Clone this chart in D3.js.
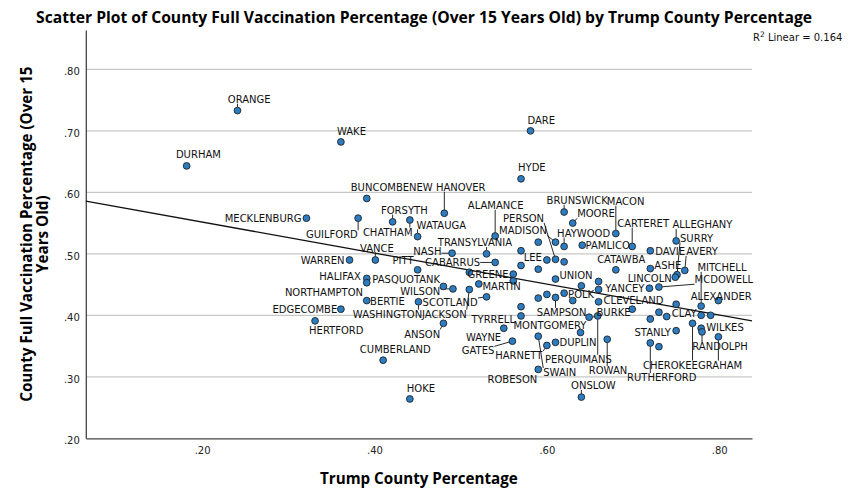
<!DOCTYPE html>
<html><head><meta charset="utf-8">
<script src="https://cdn.jsdelivr.net/npm/d3@7"></script>
<style>body{margin:0;background:#fff}svg{display:block}</style>
</head><body>
<svg id="chart" width="850" height="500"></svg>
<script>
// ---------------- DATA ----------------
const counties = ["ORANGE","DURHAM","WAKE","DARE","HYDE","MECKLENBURG","BUNCOMBE","NEW HANOVER","FORSYTH","CHATHAM",
"GUILFORD","WATAUGA","WARREN","VANCE","PITT","NASH","TRANSYLVANIA","ALAMANCE","CABARRUS","GREENE",
"MARTIN","HALIFAX","NORTHAMPTON","PASQUOTANK","WILSON","BERTIE","WASHINGTON","SCOTLAND","JACKSON","EDGECOMBE",
"HERTFORD","ANSON","CUMBERLAND","HOKE","BRUNSWICK","MOORE","MACON","PERSON","MADISON","HAYWOOD",
"PAMLICO","CARTERET","ALLEGHANY","SURRY","LINCOLN","DAVIE","AVERY","ASHE","CATAWBA","MITCHELL",
"MCDOWELL","YANCEY","ALEXANDER","CLEVELAND","CLAY","WILKES","RANDOLPH","GRAHAM","CHEROKEE","STANLY",
"RUTHERFORD","ROWAN","ONSLOW","PERQUIMANS","BURKE","POLK","SAMPSON","UNION","LEE","TYRRELL",
"MONTGOMERY","WAYNE","GATES","HARNETT","DUPLIN","SWAIN","ROBESON",
"","","","","","","","","","","","","","","","","","","","",""];

const trumpPct = [0.241,0.182,0.361,0.581,0.570,0.321,0.391,0.481,0.421,0.441,
0.381,0.450,0.371,0.401,0.450,0.490,0.530,0.540,0.540,0.561,
0.521,0.391,0.391,0.480,0.491,0.391,0.451,0.530,0.510,0.361,
0.331,0.480,0.410,0.441,0.620,0.630,0.680,0.610,0.610,0.620,
0.641,0.699,0.750,0.751,0.749,0.720,0.760,0.720,0.680,0.779,
0.730,0.660,0.799,0.660,0.739,0.779,0.780,0.799,0.769,0.750,
0.720,0.670,0.640,0.659,0.649,0.620,0.610,0.610,0.600,0.570,
0.639,0.550,0.560,0.600,0.610,0.590,0.590,
0.570,0.570,0.590,0.590,0.620,0.510,0.561,0.640,0.660,0.590,0.600,0.630,0.570,0.699,0.719,0.750,0.720,0.730,0.779,0.790,0.730];

const vaxPct = [0.733,0.643,0.682,0.700,0.622,0.558,0.590,0.566,0.552,0.555,
0.558,0.528,0.490,0.490,0.474,0.501,0.500,0.529,0.486,0.467,
0.451,0.460,0.453,0.447,0.443,0.424,0.422,0.430,0.442,0.410,
0.391,0.387,0.327,0.264,0.568,0.550,0.533,0.491,0.519,0.512,
0.514,0.512,0.521,0.466,0.462,0.505,0.473,0.476,0.474,0.415,
0.446,0.442,0.424,0.422,0.398,0.379,0.373,0.365,0.387,0.375,
0.355,0.361,0.267,0.399,0.397,0.436,0.429,0.459,0.490,0.399,
0.372,0.379,0.358,0.351,0.356,0.366,0.312,
0.505,0.481,0.519,0.475,0.487,0.470,0.456,0.448,0.455,0.428,0.434,0.424,0.414,0.410,0.444,0.418,0.394,0.405,0.400,0.400,0.349];

const xTicks = [0.2, 0.4, 0.6, 0.8];
const yTicks = [0.2, 0.3, 0.4, 0.5, 0.6, 0.7, 0.8];
const fitIntercept = 0.602;
const fitSlope = -0.252;
const rSquared = 0.164;
const titleText = "Scatter Plot of County Full Vaccination Percentage (Over 15 Years Old) by Trump County Percentage";
const xTitleText = "Trump County Percentage";
const yTitleLines = ["County Full Vaccination Percentage (Over 15", "Years Old)"];

// ---------------- LABEL LAYOUT (offsets from point, anchor) ----------------
const labelLayout = {
"ORANGE":[-9.7,-11.3,"start"],"DURHAM":[-10.7,-11,"start"],"WAKE":[-4,-11,"start"],"DARE":[-3,-10,"start"],
"HYDE":[-3,-11,"start"],"MECKLENBURG":[-5,0.7,"end"],"BUNCOMBE":[-16,-11,"start"],"NEW HANOVER":[-35.3,-26,"start"],
"FORSYTH":[-11.6,-11.7,"start"],"CHATHAM":[2.7,12,"end"],"GUILFORD":[-0.3,16.7,"end"],"WATAUGA":[-1,-11.7,"start"],
"WARREN":[-5,0,"end"],"VANCE":[-15.3,-12,"start"],"PITT":[-25,-9,"start"],"NASH":[-10.6,-2.3,"end"],
"TRANSYLVANIA":[-48.7,-11.3,"start"],"ALAMANCE":[-27.3,-30.7,"start"],"CABARRUS":[-15,0,"end"],"GREENE":[-4.7,0,"end"],
"MARTIN":[3.7,2.7,"start"],"HALIFAX":[-6,-1.6,"end"],"NORTHAMPTON":[-3.7,9.3,"end"],"PASQUOTANK":[-3.3,-7.2,"end"],
"WILSON":[-12.7,2.7,"end"],"BERTIE":[3.3,1,"start"],"WASHINGTON":[3.7,12.3,"end"],"SCOTLAND":[-64,5.6,"start"],
"JACKSON":[-47.3,24.7,"start"],"EDGECOMBE":[-3.7,0,"end"],"HERTFORD":[-6,10,"start"],"ANSON":[-3.3,10.7,"end"],
"CUMBERLAND":[-23.3,-10.7,"start"],"HOKE":[-3,-10.7,"start"],"BRUNSWICK":[-17.6,-11.7,"start"],"MOORE":[4.4,-9.3,"start"],
"MACON":[-9,-32.3,"start"],"PERSON":[-52.4,-41,"start"],"LEE":[-5,-2.7,"end"],"MADISON":[-56.4,-11.3,"start"],
"HAYWOOD":[-7,-13.4,"start"],"PAMLICO":[3.3,0,"start"],"CARTERET":[-15,-23.4,"start"],"ALLEGHANY":[-3.7,-16.4,"start"],
"SURRY":[3,-36.8,"start"],"LINCOLN":[-3.6,1,"end"],"DAVIE":[5,1,"start"],"AVERY":[1.4,-19,"start"],
"ASHE":[4,-3.3,"start"],"CATAWBA":[-18.7,-10.7,"start"],"MITCHELL":[-3.7,-38.7,"start"],"MCDOWELL":[35.7,-7.3,"start"],
"YANCEY":[6.7,-1,"start"],"ALEXANDER":[-27.6,-3.7,"start"],"CLEVELAND":[5,-1,"start"],"CLAY":[5,-2.7,"start"],
"WILKES":[5,-0.6,"start"],"RANDOLPH":[-9.7,14.7,"start"],"GRAHAM":[-20.3,28.3,"start"],"CHEROKEE":[5.3,41.7,"end"],
"STANLY":[-5.3,2,"end"],"RUTHERFORD":[-23.3,34.6,"start"],"ROWAN":[-18.4,31.4,"start"],"ONSLOW":[-10.3,-11.6,"start"],
"PERQUIMANS":[-52.7,43.3,"start"],"BURKE":[7.4,-5,"start"],"POLK":[4,1.2,"start"],"SAMPSON":[-18.8,14.8,"start"],
"UNION":[4,-3.6,"start"],"TYRRELL":[-6,3,"end"],"MONTGOMERY":[6,-7.3,"end"],"WAYNE":[-2.6,9.4,"end"],
"GATES":[-50.6,9.7,"start"],"HARNETT":[-51.7,10,"start"],"DUPLIN":[4,-0.2,"start"],"SWAIN":[5,36.3,"start"],
"ROBESON":[-1,9.7,"end"]
};

// ---------------- CHART ----------------
const svg = d3.select("#chart");
const labelFont = "'DejaVu Sans', Verdana, sans-serif";
const boldFont = "'Open Sans', 'Noto Sans', sans-serif";

const x = d3.scaleLinear().domain([0.065, 0.838]).range([85.8, 752]);
const y = d3.scaleLinear().domain([0.2, 0.864]).range([438.3, 30]);
const fmt = d => d3.format(".2f")(d).replace(/^0/, "");

// gridlines
svg.append("g").selectAll("line").data(yTicks.filter(t => t > 0.2)).join("line")
  .attr("x1", x.range()[0]).attr("x2", x.range()[1])
  .attr("y1", d => y(d)).attr("y2", d => y(d))
  .attr("stroke", "#c8c8c8").attr("stroke-width", 1.3);

// axes
const gy = svg.append("g").attr("transform", `translate(${x.range()[0]},0)`)
  .call(d3.axisLeft(y).tickValues(yTicks).tickSize(0).tickSizeOuter(0).tickPadding(6).tickFormat(fmt));
const gx = svg.append("g").attr("transform", `translate(0,${y.range()[0]})`)
  .call(d3.axisBottom(x).tickValues(xTicks).tickSize(0).tickSizeOuter(0).tickPadding(9).tickFormat(fmt));
[gx, gy].forEach(g => {
  g.select(".domain").attr("stroke", "#444").attr("stroke-width", 1.3);
  g.selectAll("text").attr("font-family", labelFont).attr("font-size", 10).attr("fill", "#222");
});
gy.selectAll("text").attr("dy", "0.55em");

// regression line
const d0 = x.domain()[0], d1 = x.domain()[1];
svg.append("line")
  .attr("x1", x(d0)).attr("y1", y(fitIntercept + fitSlope * d0))
  .attr("x2", x(d1)).attr("y2", y(fitIntercept + fitSlope * d1))
  .attr("stroke", "#111").attr("stroke-width", 1.3);

// points data
const pts = counties.map((c, i) => ({name: c, px: x(trumpPct[i]), py: y(vaxPct[i])}));

const leaderG = svg.append("g");
const pointG = svg.append("g");
const labelG = svg.append("g");

pointG.selectAll("circle").data(pts).join("circle")
  .attr("cx", d => d.px).attr("cy", d => d.py).attr("r", 3.4)
  .attr("fill", "#2e7cc0").attr("stroke", "#151515").attr("stroke-width", 0.8);

const labeled = pts.filter(d => d.name !== "");
labelG.selectAll("text").data(labeled).join("text")
  .attr("x", d => d.px + (labelLayout[d.name] || [5,0])[0])
  .attr("y", d => d.py + (labelLayout[d.name] || [5,0])[1])
  .attr("dy", "0.36em")
  .attr("text-anchor", d => (labelLayout[d.name] || [0,0,"start"])[2])
  .attr("font-family", labelFont).attr("font-size", 10).attr("fill", "#111")
  .text(d => d.name)
  .each(function(d) {
    const bb = this.getBBox();
    const cy = d.py + (labelLayout[d.name] || [5,0])[1];
    const bx0 = bb.x, bx1 = bb.x + bb.width, by0 = cy - 4.5, by1 = cy + 4.5;
    const nx = Math.max(bx0, Math.min(d.px, bx1));
    const ny = Math.max(by0, Math.min(d.py, by1));
    const dist = Math.hypot(nx - d.px, ny - d.py);
    if (dist > 6.5) {
      const ux = (nx - d.px) / dist, uy = (ny - d.py) / dist;
      leaderG.append("line")
        .attr("x1", d.px + ux * 3.4).attr("y1", d.py + uy * 3.4)
        .attr("x2", nx).attr("y2", ny)
        .attr("stroke", "#111").attr("stroke-width", 0.9);
    }
  });

// R squared
const rt = svg.append("text").attr("x", 753).attr("y", 40.5)
  .attr("font-family", labelFont).attr("font-size", 10).attr("fill", "#111");
rt.append("tspan").text("R");
rt.append("tspan").attr("dy", -4).attr("font-size", 7.5).text("2");
rt.append("tspan").attr("dy", 4).text("\u00a0Linear = " + rSquared.toFixed(3));

// title
const title = svg.append("text").attr("x", 36).attr("y", 23)
  .attr("font-family", boldFont).attr("font-weight", "bold").attr("font-size", 16.5).attr("fill", "#000")
  .text(titleText);
const natural = title.node().getComputedTextLength();
const squeeze = 776 / natural;
title.attr("textLength", 776).attr("lengthAdjust", "spacingAndGlyphs");

// x title
const xt = svg.append("text").attr("x", (x.range()[0] + x.range()[1]) / 2).attr("y", 484)
  .attr("text-anchor", "middle")
  .attr("font-family", boldFont).attr("font-weight", "bold").attr("font-size", 16).attr("fill", "#000")
  .text(xTitleText);
xt.attr("textLength", xt.node().getComputedTextLength() * squeeze).attr("lengthAdjust", "spacingAndGlyphs");

// y title (two lines)
const yc = (y.range()[0] + y.range()[1]) / 2;
yTitleLines.forEach((ln, i) => {
  const t = svg.append("text")
    .attr("transform", `translate(${32 + i * 15.5},${yc}) rotate(-90)`)
    .attr("text-anchor", "middle")
    .attr("font-family", boldFont).attr("font-weight", "bold").attr("font-size", 16).attr("fill", "#000")
    .text(ln);
  t.attr("textLength", t.node().getComputedTextLength() * squeeze).attr("lengthAdjust", "spacingAndGlyphs");
});
</script>
</body></html>
